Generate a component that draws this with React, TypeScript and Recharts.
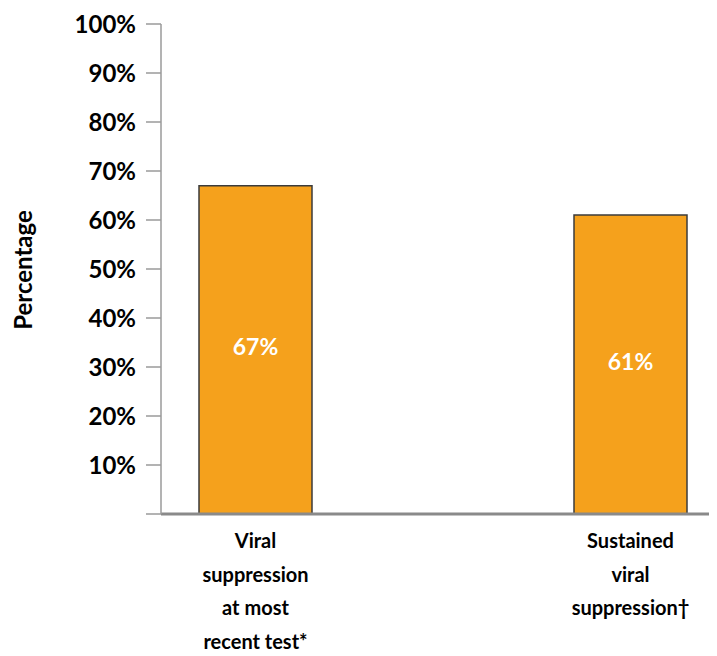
import React from 'react';
import { BarChart, Bar, XAxis, YAxis, LabelList, Label } from 'recharts';

const categories: string[] = ['Viral suppression at most recent test*', 'Sustained viral suppression\u2020'];
const categoryLines: string[][] = [
  ['Viral', 'suppression', 'at most', 'recent test*'],
  ['Sustained', 'viral', 'suppression\u2020'],
];
const values: number[] = [67, 61];
const yTicks: number[] = [0, 10, 20, 30, 40, 50, 60, 70, 80, 90, 100];

const data = categories.map((c, i) => ({ name: c, value: values[i], idx: i }));

const FONT = 'Lato, "Open Sans", sans-serif';

const CatTick = (props: any) => {
  const { x, y, index } = props;
  const lines = categoryLines[index] || [];
  return (
    <g>
      {lines.map((l, i) => (
        <text
          key={i}
          x={x}
          y={y + 34 + i * 33.5}
          textAnchor="middle"
          fontFamily={FONT}
          fontWeight={700}
          fontSize={20}
          fill="#000"
        >
          {l}
        </text>
      ))}
    </g>
  );
};

export default function App() {
  return (
    <BarChart
      width={709}
      height={648}
      data={data}
      margin={{ top: 16, right: 0, bottom: 0, left: 0 }}
    >
      <XAxis
        dataKey="name"
        type="category"
        padding={{ left: -93, right: -101 }}
        height={142}
        axisLine={{ stroke: '#8a8a8a', strokeWidth: 3 }}
        tickLine={false}
        tickSize={0}
        tickMargin={0}
        interval={0}
        tick={<CatTick />}
      />
      <YAxis
        type="number"
        domain={[0, 100]}
        ticks={yTicks}
        width={153}
        interval={0}
        tickSize={15}
        tickMargin={10}
        axisLine={{ stroke: '#9a9a9a', strokeWidth: 1.5 }}
        tickLine={{ stroke: '#9a9a9a', strokeWidth: 1.5 }}
        tickFormatter={(v: number) => (v === 0 ? '' : `${v}%`)}
        tick={{ fill: '#000', fontFamily: FONT, fontWeight: 700, fontSize: 24 }}
      >
        <Label
          content={() => (
            <text
              x={0}
              y={0}
              transform="translate(24, 262) rotate(-90)"
              textAnchor="middle"
              fontFamily={FONT}
              fontWeight={700}
              fontSize={24}
              fill="#000"
            >
              Percentage
            </text>
          )}
        />
      </YAxis>
      <Bar
        dataKey="value"
        fill="#F5A11C"
        stroke="#3b3b3b"
        strokeWidth={1.5}
        barSize={113}
        isAnimationActive={false}
      >
        <LabelList
          dataKey="value"
          position="center"
          formatter={(v: any) => `${v}%`}
          fill="#fff"
          fontFamily={FONT}
          fontWeight={700}
          fontSize={23}
          dy={-3}
        />
      </Bar>
    </BarChart>
  );
}
